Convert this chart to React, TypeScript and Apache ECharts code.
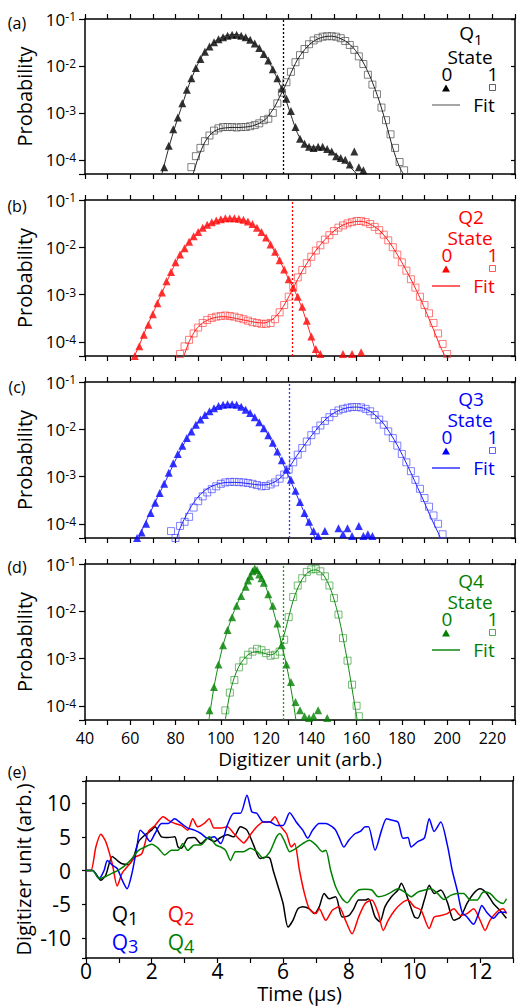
import React, { useEffect, useRef } from 'react';
import * as echarts from 'echarts';

type P = [number, number][];

const FONT = 'Open Sans';

// ---------- tick labels ----------
const xTickLabels = [40, 60, 80, 100, 120, 140, 160, 180, 200, 220];
const yLogTicks = [1e-4, 1e-3, 1e-2, 1e-1];
const timeTickLabels = [0, 2, 4, 6, 8, 10, 12];
const traceTickLabels = [-10, -5, 0, 5, 10];

// ---------- thresholds (vertical dotted lines) ----------
const thresholds = [127.6, 131.5, 130.2, 127.6];

// ---------- Panel (a) Q1 ----------
const q1State0: P = [[75,7e-5],[77,2e-4],[79,4.5e-4],[81,8e-4],[83,1.6e-3],[85,3.1e-3],[87,5.5e-3],[89,9e-3],[91,1.4e-2],[93,2e-2],[95,2.6e-2],[97,3.2e-2],[99,3.7e-2],[101,4.1e-2],[103,4.4e-2],[105,4.6e-2],[107,4.6e-2],[109,4.4e-2],[111,4.1e-2],[113,3.6e-2],[115,3.0e-2],[117,2.4e-2],[119,1.8e-2],[121,1.3e-2],[123,8.5e-3],[125,5.5e-3],[127,3.3e-3],[129,2.0e-3],[131,1.1e-3],[133,5e-4],[135,2.8e-4],[137,2.2e-4],[139,1.9e-4],[141,1.8e-4],[143,1.9e-4],[145,1.9e-4],[147,1.7e-4],[149,1.5e-4],[151,1.2e-4],[153,1.1e-4],[155,1.0e-4],[157,8e-5],[159,1.5e-4],[161,7e-5],[163,6e-5]];
const q1State1: P = [[87,7e-5],[89,1.2e-4],[91,1.8e-4],[93,2.5e-4],[95,3.3e-4],[97,4.2e-4],[99,4.7e-4],[101,5e-4],[103,5e-4],[105,5e-4],[107,4.9e-4],[109,5e-4],[111,5e-4],[113,5.2e-4],[115,5.5e-4],[117,6e-4],[119,7e-4],[121,7.5e-4],[123,1e-3],[125,1.6e-3],[127,2.7e-3],[129,4.5e-3],[131,7.5e-3],[133,1.2e-2],[135,1.7e-2],[137,2.3e-2],[139,2.9e-2],[141,3.5e-2],[143,3.9e-2],[145,4.2e-2],[147,4.3e-2],[149,4.3e-2],[151,4.2e-2],[153,3.9e-2],[155,3.4e-2],[157,2.8e-2],[159,2.2e-2],[161,1.6e-2],[163,1.1e-2],[165,6.5e-3],[167,4e-3],[169,2.5e-3],[171,1.3e-3],[173,7e-4],[175,3.5e-4],[177,1.8e-4],[179,9e-5],[181,6e-5]];
const q1Fit0: P = [[74,5e-5],[77,1.8e-4],[80,5.5e-4],[83,1.5e-3],[86,4e-3],[89,9e-3],[92,1.7e-2],[95,2.6e-2],[98,3.5e-2],[101,4.2e-2],[104,4.6e-2],[107,4.7e-2],[110,4.3e-2],[113,3.6e-2],[116,2.7e-2],[119,1.8e-2],[122,1.05e-2],[125,5.3e-3],[128,2.4e-3],[131,9e-4],[134,3.6e-4],[137,2.2e-4],[140,1.9e-4],[144,1.85e-4],[148,1.6e-4],[152,1.2e-4],[156,8e-5],[160,5e-5],[163,3e-5]];
const q1Fit1: P = [[87,4e-5],[88,5.5e-5],[90,1.1e-4],[93,2.4e-4],[96,3.7e-4],[99,4.5e-4],[102,4.8e-4],[105,4.9e-4],[108,4.9e-4],[111,5e-4],[114,5.3e-4],[117,6e-4],[120,7.5e-4],[122,1e-3],[124,1.4e-3],[126,2.2e-3],[128,3.4e-3],[130,5.5e-3],[132,9e-3],[134,1.4e-2],[137,2.2e-2],[140,3.1e-2],[143,3.8e-2],[146,4.2e-2],[149,4.3e-2],[152,4e-2],[155,3.4e-2],[158,2.6e-2],[161,1.7e-2],[164,9.5e-3],[167,4.5e-3],[170,1.8e-3],[173,6e-4],[176,1.8e-4],[179,7e-5],[182,4e-5]];

// ---------- Panel (b) Q2 ----------
const q2State0: P = [[62,5e-5],[64,8e-5],[66,1.4e-4],[68,2.3e-4],[70,3.8e-4],[72,6.5e-4],[74,1.1e-3],[76,1.9e-3],[78,3e-3],[80,4.8e-3],[82,7e-3],[84,9.5e-3],[86,1.3e-2],[88,1.7e-2],[90,2.1e-2],[92,2.6e-2],[94,3e-2],[96,3.4e-2],[98,3.7e-2],[100,3.9e-2],[102,4.1e-2],[104,4.1e-2],[106,4.1e-2],[108,4e-2],[110,3.8e-2],[112,3.5e-2],[114,3.1e-2],[116,2.6e-2],[118,2.1e-2],[120,1.6e-2],[122,1.15e-2],[124,8e-3],[126,5.3e-3],[128,3.4e-3],[130,2.1e-3],[132,1.4e-3],[134,9e-4],[136,5.5e-4],[138,2.8e-4],[140,1.3e-4],[142,7e-5],[144,5.5e-5],[154,5.5e-5],[158,5.5e-5],[162,6e-5]];
const q2State1: P = [[82,5.5e-5],[84,8e-5],[86,1.1e-4],[88,1.5e-4],[90,2e-4],[92,2.5e-4],[94,2.9e-4],[96,3.2e-4],[98,3.4e-4],[100,3.5e-4],[102,3.6e-4],[104,3.5e-4],[106,3.4e-4],[108,3.2e-4],[110,3e-4],[112,2.8e-4],[114,2.6e-4],[116,2.5e-4],[118,2.4e-4],[120,2.4e-4],[122,2.5e-4],[124,3e-4],[126,4.2e-4],[128,6e-4],[130,9e-4],[132,1.5e-3],[134,2.3e-3],[136,3.3e-3],[138,4.6e-3],[140,6.3e-3],[142,8.5e-3],[144,1.1e-2],[146,1.45e-2],[148,1.8e-2],[150,2.2e-2],[152,2.6e-2],[154,2.9e-2],[156,3.2e-2],[158,3.4e-2],[160,3.6e-2],[162,3.6e-2],[164,3.4e-2],[166,3.1e-2],[168,2.7e-2],[170,2.3e-2],[172,1.85e-2],[174,1.4e-2],[176,1e-2],[178,7e-3],[180,4.8e-3],[182,3.2e-3],[184,2.1e-3],[186,1.4e-3],[188,9e-4],[190,6e-4],[192,4e-4],[194,2.5e-4],[196,1.5e-4],[198,9e-5],[200,5.5e-5]];
const q2Fit0: P = [[61,4e-5],[64,8.5e-5],[67,1.9e-4],[70,4e-4],[73,8.5e-4],[76,1.8e-3],[79,3.7e-3],[82,6.8e-3],[85,1.1e-2],[88,1.65e-2],[91,2.3e-2],[94,2.95e-2],[97,3.5e-2],[100,3.9e-2],[103,4.1e-2],[106,4.1e-2],[109,3.9e-2],[112,3.5e-2],[115,2.85e-2],[118,2.1e-2],[121,1.35e-2],[124,7.8e-3],[127,4.2e-3],[130,2.1e-3],[133,1.1e-3],[136,5e-4],[139,1.8e-4],[142,6e-5],[144,3e-5]];
const q2Fit1: P = [[83,4e-5],[86,1e-4],[89,1.8e-4],[92,2.5e-4],[95,3e-4],[98,3.3e-4],[101,3.4e-4],[104,3.3e-4],[107,3.1e-4],[110,2.9e-4],[113,2.7e-4],[116,2.55e-4],[119,2.5e-4],[122,2.8e-4],[125,3.7e-4],[128,6e-4],[131,1.1e-3],[134,2.1e-3],[137,3.8e-3],[140,6.3e-3],[143,9.8e-3],[146,1.45e-2],[149,2e-2],[152,2.6e-2],[155,3.1e-2],[158,3.4e-2],[161,3.55e-2],[164,3.4e-2],[167,2.9e-2],[170,2.3e-2],[173,1.6e-2],[176,1e-2],[179,5.8e-3],[182,3.2e-3],[185,1.7e-3],[188,8.5e-4],[191,4e-4],[194,1.8e-4],[197,8e-5],[200,4e-5]];

// ---------- Panel (c) Q3 ----------
const q3State0: P = [[63,5e-5],[65,6.5e-5],[67,1e-4],[69,1.7e-4],[71,2.8e-4],[73,4.5e-4],[75,7e-4],[77,1.2e-3],[79,1.9e-3],[81,3e-3],[83,4.5e-3],[85,6.5e-3],[87,9e-3],[89,1.25e-2],[91,1.6e-2],[93,2e-2],[95,2.4e-2],[97,2.8e-2],[99,3.1e-2],[101,3.3e-2],[103,3.4e-2],[105,3.4e-2],[107,3.3e-2],[109,3.0e-2],[111,2.6e-2],[113,2.2e-2],[115,1.8e-2],[117,1.4e-2],[119,1.05e-2],[121,7.5e-3],[123,5.2e-3],[125,3.4e-3],[127,2.2e-3],[129,1.4e-3],[131,8.5e-4],[133,5e-4],[135,2.9e-4],[137,1.7e-4],[139,1.1e-4],[141,7e-5],[143,5.5e-5],[146,7e-5],[152,8e-5],[154,6e-5],[156,8e-5],[158,5.5e-5],[161,9e-5],[163,5.5e-5],[165,6e-5],[167,5.5e-5]];
const q3State1: P = [[78,7e-5],[80,5e-5],[82,9e-5],[84,1.1e-4],[86,1.4e-4],[88,2.2e-4],[90,3e-4],[92,3.8e-4],[94,4.6e-4],[96,5.4e-4],[98,6.2e-4],[100,7e-4],[102,7.5e-4],[104,7.7e-4],[106,7.7e-4],[108,7.6e-4],[110,7.5e-4],[112,7.3e-4],[114,7e-4],[116,6.6e-4],[118,6.2e-4],[120,6.3e-4],[122,6.8e-4],[124,7.5e-4],[126,9e-4],[128,1.1e-3],[130,1.4e-3],[132,2e-3],[134,2.9e-3],[136,4e-3],[138,5.5e-3],[140,7.5e-3],[142,9.5e-3],[144,1.2e-2],[146,1.5e-2],[148,1.8e-2],[150,2.2e-2],[152,2.5e-2],[154,2.7e-2],[156,2.85e-2],[158,2.95e-2],[160,2.95e-2],[162,2.9e-2],[164,2.7e-2],[166,2.4e-2],[168,2.0e-2],[170,1.6e-2],[172,1.25e-2],[174,9e-3],[176,6.5e-3],[178,4.5e-3],[180,3e-3],[182,2e-3],[184,1.3e-3],[186,8.5e-4],[188,5.5e-4],[190,3.5e-4],[192,2.3e-4],[194,1.5e-4],[196,1e-4],[198,6e-5]];
const q3Fit0: P = [[63,4e-5],[66,9e-5],[69,1.8e-4],[72,3.6e-4],[75,7e-4],[78,1.4e-3],[81,2.8e-3],[84,5.2e-3],[87,9e-3],[90,1.4e-2],[93,2e-2],[96,2.6e-2],[99,3.1e-2],[102,3.35e-2],[105,3.4e-2],[108,3.2e-2],[111,2.7e-2],[114,2e-2],[117,1.4e-2],[120,9e-3],[123,5e-3],[126,2.6e-3],[129,1.3e-3],[132,6e-4],[135,2.8e-4],[138,1.3e-4],[141,6e-5],[143,3e-5]];
const q3Fit1: P = [[80,4e-5],[82,8e-5],[85,1.6e-4],[88,2.8e-4],[91,4.2e-4],[94,5.5e-4],[97,6.5e-4],[100,7.2e-4],[103,7.5e-4],[106,7.5e-4],[109,7.4e-4],[112,7.1e-4],[115,6.8e-4],[118,6.6e-4],[121,6.8e-4],[124,7.8e-4],[127,1e-3],[130,1.5e-3],[133,2.5e-3],[136,4e-3],[139,6.3e-3],[142,9.5e-3],[145,1.4e-2],[148,1.9e-2],[151,2.35e-2],[154,2.7e-2],[157,2.9e-2],[160,2.95e-2],[163,2.8e-2],[166,2.4e-2],[169,1.85e-2],[172,1.3e-2],[175,8e-3],[178,4.6e-3],[181,2.4e-3],[184,1.2e-3],[187,5.8e-4],[190,2.8e-4],[193,1.3e-4],[196,6.5e-5],[199,3e-5]];

// ---------- Panel (d) Q4 ----------
const q4State0: P = [[95,8e-5],[97,2.5e-4],[99,7.5e-4],[101,1.9e-3],[103,4e-3],[105,7.5e-3],[107,1.3e-2],[109,2.1e-2],[111,3.3e-2],[112,4.5e-2],[113,5.5e-2],[114,7e-2],[115,8e-2],[116,7.5e-2],[117,6e-2],[118,5e-2],[119,4e-2],[121,2.3e-2],[123,1.3e-2],[125,5.5e-3],[127,1.9e-3],[129,7.5e-4],[131,3.2e-4],[133,1.2e-4],[135,8e-5],[137,6e-5],[139,5.5e-5],[141,6e-5],[143,8e-5],[147,5.5e-5]];
const q4State1: P = [[102,8e-5],[104,1.9e-4],[106,3.5e-4],[108,6.5e-4],[110,9e-4],[112,1.2e-3],[114,1.4e-3],[116,1.6e-3],[118,1.5e-3],[120,1.3e-3],[122,1.15e-3],[124,1.2e-3],[126,1.4e-3],[128,2.5e-3],[130,7.5e-3],[132,2e-2],[134,3.5e-2],[136,5e-2],[138,6.8e-2],[140,7.7e-2],[142,7.8e-2],[144,7e-2],[146,5.5e-2],[148,3.5e-2],[150,1.9e-2],[152,8.5e-3],[154,2.7e-3],[156,9e-4],[158,2.8e-4],[160,1e-4],[161,6e-5]];
const q4Fit0: P = [[94.5,4e-5],[95,6e-5],[97,2.5e-4],[99,7.5e-4],[101,1.9e-3],[103,4e-3],[105,7.8e-3],[107,1.35e-2],[109,2.2e-2],[111,3.5e-2],[113,5.5e-2],[114.5,7.2e-2],[116,7.3e-2],[118,5.8e-2],[120,3.2e-2],[122,1.6e-2],[124,7.5e-3],[126,3e-3],[128,1.2e-3],[130,4.2e-4],[132,1.2e-4],[133.5,4e-5]];
const q4Fit1: P = [[102,5e-5],[104,1.8e-4],[106,4e-4],[108,6.8e-4],[110,9.5e-4],[112,1.2e-3],[114,1.35e-3],[116,1.4e-3],[118,1.35e-3],[120,1.25e-3],[122,1.2e-3],[124,1.3e-3],[126,1.8e-3],[128,3.2e-3],[130,7.5e-3],[132,1.7e-2],[134,3.1e-2],[136,4.8e-2],[138,6.3e-2],[140,7.3e-2],[142,7.5e-2],[144,6.8e-2],[146,5.3e-2],[148,3.4e-2],[150,1.8e-2],[152,8e-3],[154,2.8e-3],[156,8.5e-4],[158,2.3e-4],[160,6e-5],[161,3e-5]];

// ---------- Panel (e) time traces ----------
const q1Trace: P = [[0,0],[0.2,0],[0.4,-1.2],[0.45,-1.45],[0.6,-0.7],[0.8,2.1],[0.95,1.5],[1.1,1.0],[1.3,0.9],[1.45,2.0],[1.6,4.3],[1.8,5.3],[2.0,6.0],[2.1,6.5],[2.3,5.0],[2.5,4.9],[2.7,5.0],[2.8,3.5],[2.9,3.3],[3.1,4.8],[3.3,4.9],[3.5,4.0],[3.7,4.8],[3.9,4.3],[4.1,4.9],[4.3,5.3],[4.5,5.0],[4.7,6.5],[4.9,6.0],[5.1,3.8],[5.3,1.8],[5.5,2.0],[5.6,1.8],[5.7,0],[5.85,-2.4],[6.0,-4.9],[6.15,-8.4],[6.3,-7.4],[6.45,-5.7],[6.6,-5.4],[6.8,-5.7],[6.95,-6.4],[7.1,-5.4],[7.25,-3.4],[7.4,-4.2],[7.6,-3.9],[7.8,-6.9],[8.0,-6.7],[8.15,-5.7],[8.3,-4.4],[8.5,-4.4],[8.6,-4.2],[8.8,-6.9],[8.95,-7.6],[9.1,-5.4],[9.3,-3.9],[9.5,-2.9],[9.6,-1.9],[9.8,-4.2],[10.0,-6.9],[10.1,-7.1],[10.3,-4.4],[10.45,-2.2],[10.6,-3.4],[10.8,-2.9],[11.0,-4.7],[11.2,-7.4],[11.4,-6.9],[11.6,-4.9],[11.8,-3.4],[12.0,-2.7],[12.2,-3.4],[12.4,-4.9],[12.6,-5.9],[12.8,-7.1]];
const q2Trace: P = [[0,0],[0.15,0],[0.3,3.5],[0.45,5.4],[0.6,4.3],[0.8,1.0],[0.95,-2.3],[1.1,-0.4],[1.3,0.8],[1.5,2.0],[1.7,2.5],[1.9,5.8],[2.1,6.7],[2.35,8.0],[2.5,7.5],[2.7,7.0],[2.9,6.7],[3.1,6.0],[3.25,7.7],[3.4,6.5],[3.6,7.0],[3.75,7.7],[3.9,6.3],[4.1,6.3],[4.3,6.5],[4.5,5.5],[4.7,4.5],[4.8,4.1],[5.0,5.3],[5.2,6.5],[5.4,7.2],[5.6,7.2],[5.75,8.0],[5.9,6.7],[6.1,5.5],[6.25,3.5],[6.35,4.0],[6.5,0],[6.65,-3.4],[6.8,-5.7],[7.0,-6.4],[7.1,-5.7],[7.3,-7.4],[7.5,-5.9],[7.7,-5.4],[7.9,-7.4],[8.1,-9.4],[8.3,-6.9],[8.5,-4.9],[8.7,-4.4],[8.9,-6.4],[9.05,-8.9],[9.2,-7.4],[9.4,-5.9],[9.6,-4.9],[9.8,-4.4],[10.0,-5.4],[10.2,-5.9],[10.45,-8.6],[10.6,-6.9],[10.8,-6.7],[11.0,-6.4],[11.2,-5.7],[11.4,-6.7],[11.6,-6.4],[11.8,-5.7],[12.0,-7.4],[12.15,-8.9],[12.3,-7.4],[12.5,-6.2],[12.7,-5.7],[12.8,-6.4]];
const q3Trace: P = [[0,0],[0.2,0],[0.4,-1.2],[0.55,0],[0.65,1.5],[0.8,0.8],[0.95,0.3],[1.1,-1.4],[1.25,-2.7],[1.4,-0.4],[1.55,3.5],[1.65,6.0],[1.8,5.3],[1.95,4.3],[2.1,5.5],[2.3,7.0],[2.5,7.0],[2.7,7.7],[2.9,7.0],[3.1,6.3],[3.3,6.0],[3.5,5.5],[3.7,4.8],[3.9,5.0],[4.1,4.0],[4.3,6.7],[4.5,8.5],[4.7,8.5],[4.9,11.2],[5.05,8.7],[5.2,8.5],[5.4,7.2],[5.6,7.2],[5.8,6.7],[6.0,6.7],[6.2,8.6],[6.4,7.2],[6.6,6.0],[6.75,4.8],[6.9,6.0],[7.1,7.0],[7.3,7.0],[7.5,6.5],[7.6,6.0],[7.7,5.0],[7.85,3.5],[8.0,4.5],[8.2,5.5],[8.35,5.8],[8.5,6.5],[8.6,6.5],[8.8,3.0],[9.0,6.0],[9.15,7.7],[9.3,7.5],[9.5,7.2],[9.65,4.8],[9.8,4.9],[9.9,3.5],[10.1,4.3],[10.3,4.8],[10.45,7.7],[10.6,5.8],[10.8,7.2],[11.0,3.8],[11.15,0],[11.3,-2.9],[11.45,-6.2],[11.6,-6.9],[11.8,-8.0],[11.95,-6.4],[12.05,-5.2],[12.2,-6.2],[12.4,-7.1],[12.6,-6.2],[12.8,-6.2]];
const q4Trace: P = [[0,0],[0.2,0],[0.4,-1.2],[0.6,-0.9],[0.8,-0.4],[1.0,0.1],[1.2,0.8],[1.4,1.8],[1.6,3.0],[1.8,3.5],[2.0,3.9],[2.2,3.3],[2.4,2.3],[2.6,3.0],[2.8,3.0],[2.95,4.0],[3.1,3.0],[3.3,3.8],[3.5,3.8],[3.75,5.0],[3.95,3.8],[4.1,3.5],[4.25,3.0],[4.4,1.5],[4.55,2.8],[4.8,2.8],[5.0,3.3],[5.2,2.8],[5.4,1.8],[5.6,2.8],[5.8,5.0],[5.9,5.5],[6.05,4.3],[6.2,2.8],[6.4,3.3],[6.6,4.0],[6.8,4.5],[7.0,3.8],[7.2,2.8],[7.3,3.0],[7.45,0],[7.6,-2.4],[7.8,-4.2],[7.95,-4.8],[8.1,-3.9],[8.3,-2.9],[8.5,-2.8],[8.7,-2.9],[8.9,-3.9],[9.1,-3.7],[9.3,-3.2],[9.5,-2.7],[9.7,-3.2],[9.9,-3.9],[10.1,-3.2],[10.3,-2.9],[10.5,-2.7],[10.7,-3.4],[10.9,-4.3],[11.1,-3.7],[11.3,-3.4],[11.5,-3.4],[11.7,-4.4],[11.9,-4.4],[12.1,-3.2],[12.3,-3.4],[12.5,-4.4],[12.7,-4.9],[12.8,-4.2]];

// ---------- styling / layout (not data) ----------
const panels = [
  { s0: q1State0, s1: q1State1, f0: q1Fit0, f1: q1Fit1, color: '#000000', thr: '#000000', sq: 'rgba(70,70,70,0.85)', fit: '#222222', legFit: '#888888', q: '{q|Q}{n|1}' },
  { s0: q2State0, s1: q2State1, f0: q2Fit0, f1: q2Fit1, color: '#ff0000', thr: '#ff0000', sq: 'rgba(255,50,50,0.8)', fit: '#ff2020', legFit: '#ff3030', q: '{q|Q2}' },
  { s0: q3State0, s1: q3State1, f0: q3Fit0, f1: q3Fit1, color: '#0000ff', thr: '#3030ff', sq: 'rgba(60,60,255,0.8)', fit: '#2020ff', legFit: '#3030ff', q: '{q|Q3}' },
  { s0: q4State0, s1: q4State1, f0: q4Fit0, f1: q4Fit1, color: '#008000', thr: '#10a010', sq: 'rgba(40,150,40,0.8)', fit: '#108a10', legFit: '#108a10', q: '{q|Q4}' },
];
const GRID_TOPS = [19, 200, 382, 564];
const GRID_H = [155, 156, 156, 156];
const LETTER_Y = [23, 206, 387, 567, 772];

function logLabel(v: number) {
  const e = Math.log10(v);
  const r = Math.round(e);
  if (Math.abs(e - r) > 0.01) return '';
  if (!yLogTicks.some((t) => Math.round(Math.log10(t)) === r)) return '';
  return `{b|10}{s|${r}}`;
}

const axisLine = { show: true, onZero: false, lineStyle: { color: '#000', width: 1.5 } };
const tickStyle = { color: '#000', width: 1.2 };

function buildOption() {
  const grid: any[] = [];
  const xAxis: any[] = [];
  const yAxis: any[] = [];
  const series: any[] = [];
  const graphic: any[] = [];

  panels.forEach((p, i) => {
    grid.push({ left: 85, width: 430, top: GRID_TOPS[i], height: GRID_H[i], outerBoundsMode: 'none', containLabel: false });
    xAxis.push({
      type: 'value', gridIndex: i, position: 'bottom', min: 40, max: 230, interval: 10,
      axisLine, axisTick: { show: true, inside: false, length: 5, lineStyle: tickStyle },
      axisLabel: {
        show: i === 3, margin: 9, fontSize: 16, lineHeight: 17, color: '#000', fontFamily: FONT,
        showMinLabel: true, showMaxLabel: true,
        formatter: (v: number) => (xTickLabels.includes(Math.round(v)) ? String(Math.round(v)) : ''),
      },
      splitLine: { show: false },
      name: i === 3 ? 'Digitizer unit (arb.)' : '', nameLocation: 'middle', nameGap: 29, nameMoveOverlap: false,
      nameTextStyle: { fontSize: 19, lineHeight: 19, color: '#000', fontFamily: FONT },
    });
    xAxis.push({
      type: 'value', gridIndex: i, position: 'top', min: 40, max: 230, interval: 10,
      axisLine, axisTick: { show: true, inside: false, length: 5, lineStyle: tickStyle },
      axisLabel: { show: false }, splitLine: { show: false },
    });
    yAxis.push({
      type: 'log', logBase: 10, gridIndex: i, position: 'left', min: 5e-5, max: 0.1,
      axisLine, axisTick: { show: true, inside: false, length: 6, lineStyle: tickStyle },
      minorTick: { show: false },
      axisLabel: {
        margin: 9, formatter: logLabel, showMinLabel: true, showMaxLabel: true,
        rich: {
          b: { fontSize: 17, color: '#000', fontFamily: FONT },
          s: { fontSize: 12, color: '#000', fontFamily: FONT, verticalAlign: 'top' },
        },
      },
      splitLine: { show: false },
      name: 'Probability', nameLocation: 'middle', nameGap: 51, nameMoveOverlap: false,
      nameTextStyle: { fontSize: 20, color: '#000', fontFamily: FONT },
    });
    yAxis.push({
      type: 'log', logBase: 10, gridIndex: i, position: 'right', min: 5e-5, max: 0.1,
      axisLine, axisTick: { show: true, inside: true, length: 4, lineStyle: tickStyle },
      minorTick: { show: false },
      axisLabel: { show: false }, splitLine: { show: false },
    });

    const xi = 2 * i;
    series.push({
      type: 'scatter', xAxisIndex: xi, yAxisIndex: xi, data: p.s0, symbol: 'triangle', symbolSize: 8,
      itemStyle: { color: p.color }, z: 2,
    });
    series.push({
      type: 'scatter', xAxisIndex: xi, yAxisIndex: xi, data: p.s1, symbol: 'rect', symbolSize: 7,
      itemStyle: { color: 'rgba(0,0,0,0)', borderColor: p.sq, borderWidth: 1 }, z: 2,
    });
    series.push({
      type: 'line', xAxisIndex: xi, yAxisIndex: xi, data: p.f0, smooth: 0.3, symbol: 'none', showSymbol: false,
      lineStyle: { color: p.fit, width: 1 }, z: 3,
    });
    series.push({
      type: 'line', xAxisIndex: xi, yAxisIndex: xi, data: p.f1, smooth: 0.3, symbol: 'none', showSymbol: false,
      lineStyle: { color: p.fit, width: 1 }, z: 3,
      markLine: {
        silent: true, symbol: ['none', 'none'], label: { show: false },
        lineStyle: { color: p.thr, type: [2, 2], width: 1.3 },
        data: [{ xAxis: thresholds[i] }],
      },
    });

    // legend block
    const t = GRID_TOPS[i];
    const txt = (text: string, x: number, y: number, extra: any = {}) => ({
      type: 'text', x, y, z: 10,
      style: { text, fill: p.color, fontSize: 19, lineHeight: 18, fontFamily: FONT, align: 'center', verticalAlign: 'middle', ...extra },
    });
    graphic.push(txt(p.q, 471, t + 16, {
      rich: {
        q: { fontSize: 19, lineHeight: 18, fontFamily: FONT, fill: p.color, verticalAlign: 'top' },
        n: { fontSize: 15, lineHeight: 23, fontFamily: FONT, fill: p.color, verticalAlign: 'bottom' },
      },
    }));
    graphic.push(txt('State', 470, t + 38));
    graphic.push(txt('0', 447, t + 55));
    graphic.push(txt('1', 493, t + 55));
    graphic.push({
      type: 'polygon', z: 10,
      shape: { points: [[446, t + 65.5], [442, t + 72.5], [450, t + 72.5]] },
      style: { fill: p.color },
    });
    graphic.push({
      type: 'rect', z: 10, shape: { x: 489.5, y: t + 65.5, width: 6, height: 6 },
      style: { fill: 'none', stroke: p.sq, lineWidth: 1 },
    });
    graphic.push({
      type: 'line', z: 10, shape: { x1: 432, y1: t + 86, x2: 460, y2: t + 86 },
      style: { stroke: p.legFit, lineWidth: 1.5 },
    });
    graphic.push(txt('Fit', 484, t + 86));
  });

  // panel (e)
  grid.push({ left: 86, width: 427, top: 781, height: 177, outerBoundsMode: 'none', containLabel: false });
  xAxis.push({
    type: 'value', gridIndex: 4, position: 'bottom', min: 0, max: 13, interval: 1,
    axisLine, axisTick: { show: true, inside: false, length: 5, lineStyle: tickStyle },
    axisLabel: {
      margin: 3, fontSize: 21, lineHeight: 20, color: '#000', fontFamily: FONT, showMinLabel: true, showMaxLabel: true,
      formatter: (v: number) => (timeTickLabels.includes(Math.round(v)) ? String(Math.round(v)) : ''),
    },
    splitLine: { show: false },
    name: 'Time (µs)', nameLocation: 'middle', nameGap: 26, nameMoveOverlap: false,
    nameTextStyle: { fontSize: 20, lineHeight: 19, color: '#000', fontFamily: FONT },
  });
  xAxis.push({
    type: 'value', gridIndex: 4, position: 'top', min: 0, max: 13, interval: 1,
    axisLine, axisTick: { show: true, inside: false, length: 5, lineStyle: tickStyle },
    axisLabel: { show: false }, splitLine: { show: false },
  });
  yAxis.push({
    type: 'value', gridIndex: 4, position: 'left', min: -13, max: 13.3,
    axisLine, axisTick: { show: true, inside: false, length: 4, lineStyle: tickStyle },
    axisLabel: {
      margin: 15, fontSize: 21, color: '#000', fontFamily: FONT, showMinLabel: true, showMaxLabel: true,
      formatter: (v: number) => (traceTickLabels.includes(v) ? String(v) : ''),
    },
    splitLine: { show: false },
    name: 'Digitizer unit (arb.)', nameLocation: 'middle', nameGap: 53, nameMoveOverlap: false,
    nameTextStyle: { fontSize: 20, color: '#000', fontFamily: FONT },
  });
  yAxis.push({
    type: 'value', gridIndex: 4, position: 'right', min: -13, max: 13.3,
    axisLine, axisTick: { show: false }, axisLabel: { show: false }, splitLine: { show: false },
  });
  const traces: [P, string][] = [[q1Trace, '#000000'], [q2Trace, '#ff0000'], [q3Trace, '#0000ff'], [q4Trace, '#008000']];
  traces.forEach(([d, c]) => {
    series.push({
      type: 'line', xAxisIndex: 8, yAxisIndex: 8, data: d, smooth: 0.25, symbol: 'none', showSymbol: false,
      lineStyle: { color: c, width: 1.5 },
    });
  });

  // panel (e) legend
  const eLeg: [string, string, number, number][] = [
    ['1', '#000000', 125, 915], ['2', '#ff0000', 181, 915], ['3', '#0000ff', 125, 943], ['4', '#008000', 181, 943],
  ];
  eLeg.forEach(([n, c, x, y]) => {
    graphic.push({
      type: 'text', x, y, z: 10,
      style: {
        text: `{q|Q}{n|${n}}`, align: 'center', verticalAlign: 'middle', fill: c,
        rich: {
          q: { fontSize: 21, lineHeight: 20, fontFamily: FONT, fill: c, verticalAlign: 'top' },
          n: { fontSize: 18, lineHeight: 24, fontFamily: FONT, fill: c, verticalAlign: 'bottom' },
        },
      },
    });
  });

  // panel letters
  ['(a)', '(b)', '(c)', '(d)', '(e)'].forEach((l, k) => {
    graphic.push({
      type: 'text', x: 17, y: LETTER_Y[k], z: 10,
      style: { text: l, fill: '#000', fontSize: 16, fontFamily: FONT, align: 'center', verticalAlign: 'middle' },
    });
  });

  return {
    animation: false,
    backgroundColor: '#ffffff',
    textStyle: { fontFamily: FONT },
    grid, xAxis, yAxis, series, graphic,
  };
}

export default function App() {
  const ref = useRef<HTMLDivElement>(null);
  useEffect(() => {
    const chart = echarts.init(ref.current as HTMLDivElement, null, { renderer: 'svg' });
    chart.setOption(buildOption() as any);
    return () => chart.dispose();
  }, []);
  return (
    <div
      ref={ref}
      style={{ position: 'fixed', left: 0, top: 0, width: 517, height: 1006, background: '#fff' }}
    />
  );
}
